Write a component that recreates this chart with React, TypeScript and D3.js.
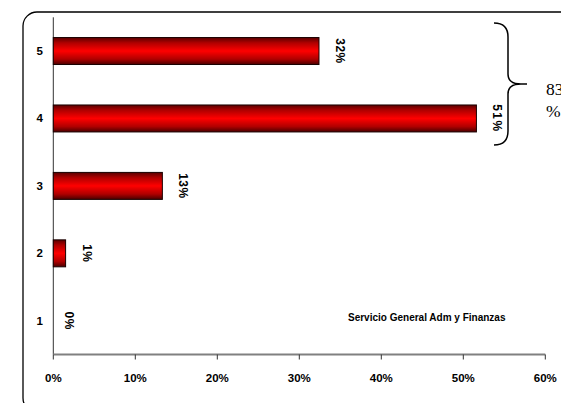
import React from "react";
import * as d3 from "d3";

const categories = ["1", "2", "3", "4", "5"];
const values = [0, 1.5, 13.3, 51.6, 32.4];
const valueLabels = ["0%", "1%", "13%", "51%", "32%"];
const xTicks = [0, 10, 20, 30, 40, 50, 60];
const annotation = "Servicio General Adm y Finanzas";
const braceLabel = ["83", "%"];

export default function App() {
  const W = 561, H = 403;
  const x = d3.scaleLinear().domain([0, 60]).range([53.3, 545.3]);
  const y = d3.scaleBand<string>().domain([...categories].reverse()).range([17.3, 354.5]).paddingInner(0.6).paddingOuter(0.3);
  const bw = y.bandwidth();
  const font = "Arial, 'Liberation Sans', sans-serif";
  const bx = 508, top = 23, bot = 145, mid = 84, tip = 527;
  const brace = `M ${bx - 14} ${top} Q ${bx} ${top} ${bx} ${top + 14} L ${bx} ${mid - 10} Q ${bx} ${mid} ${tip - 6} ${mid} L ${tip} ${mid} L ${tip - 6} ${mid} Q ${bx} ${mid} ${bx} ${mid + 10} L ${bx} ${bot - 14} Q ${bx} ${bot} ${bx - 14} ${bot}`;
  return (
    <svg width={W} height={H} style={{ position: "absolute", left: 0, top: 0, background: "#fff" }}>
      <defs>
        <linearGradient id="barGrad" x1="0" y1="0" x2="0" y2="1">
          <stop offset="0" stopColor="#5a0000" />
          <stop offset="0.2" stopColor="#b00000" />
          <stop offset="0.5" stopColor="#ff0000" />
          <stop offset="0.8" stopColor="#b00000" />
          <stop offset="1" stopColor="#4a0000" />
        </linearGradient>
      </defs>
      <rect x={23} y={12} width={560} height={400} rx={14} ry={14} fill="none" stroke="#000" strokeWidth={1.3} />
      <line x1={53.3} x2={53.3} y1={17.3} y2={354.5} stroke="#333" strokeWidth={1} />
      <line x1={53.3} x2={545.3} y1={354.5} y2={354.5} stroke="#808080" strokeWidth={2} />
      {xTicks.map((t) => (
        <g key={t}>
          <line x1={x(t)} x2={x(t)} y1={354.5} y2={359.5} stroke="#333" strokeWidth={1} />
          <text x={x(t)} y={382} textAnchor="middle" fontFamily={font} fontWeight="bold" fontSize={11.5} fill="#000">{t}%</text>
        </g>
      ))}
      {categories.map((c) => (
        <text key={c} x={43} y={y(c)! + bw / 2 + 4} textAnchor="end" fontFamily={font} fontWeight="bold" fontSize={11.5} fill="#000">{c}</text>
      ))}
      {categories.map((c, i) => {
        const v = values[i];
        const yy = y(c)!;
        return (
          <g key={c}>
            {v > 0 && (
              <rect x={x(0)} y={yy} width={x(v) - x(0)} height={bw} fill="url(#barGrad)" stroke="#1a0000" strokeWidth={1} />
            )}
            <text transform={`translate(${x(v) + (v > 0 ? 17 : 12)}, ${yy + bw / 2}) rotate(90)`} textAnchor="middle" fontFamily={font} fontWeight="bold" fontSize={12} fill="#000" letterSpacing={v > 50 ? 1.5 : 0.5}>{valueLabels[i]}</text>
          </g>
        );
      })}
      <text x={348} y={321} fontFamily={font} fontWeight="bold" fontSize={10} fill="#000">{annotation}</text>
      <path d={brace} fill="none" stroke="#000" strokeWidth={1.5} />
      <text x={546} y={95} fontFamily="'Liberation Serif', 'Times New Roman', serif" fontSize={17.5} fill="#000">{braceLabel[0]}</text>
      <text x={546} y={117} fontFamily="'Liberation Serif', 'Times New Roman', serif" fontSize={17.5} fill="#000">{braceLabel[1]}</text>
    </svg>
  );
}
